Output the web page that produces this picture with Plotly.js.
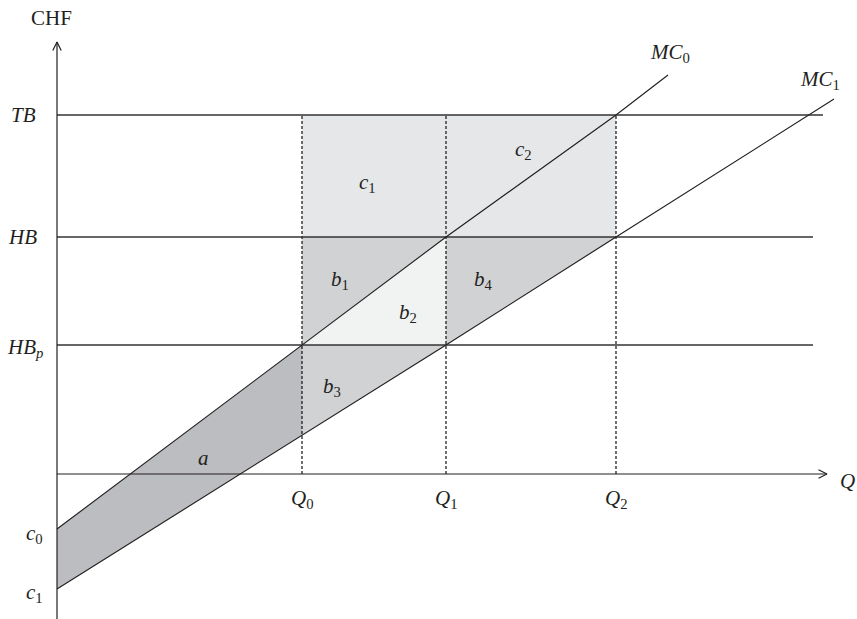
<!DOCTYPE html>
<html><head><meta charset="utf-8">
<script src="https://cdn.plot.ly/plotly-3.0.1.min.js"></script>
<style>html,body{margin:0;padding:0;background:#fff}#chart{width:857px;height:619px}</style>
</head><body><div id="chart"></div>
<script>
// ---- data ----
const qNames = ['Q0', 'Q1', 'Q2'];
const qValues = [24.5, 38.9, 55.9];
const priceNames = ['TB', 'HB', 'HBp'];
const priceValues = [35.9, 23.7, 12.9];
const priceLineEnds = [76.6, 75.6, 75.6];
const interceptNames = ['c0', 'c1'];
const interceptValues = [-5.5, -11.5];
const mc0Q = [0, 24.5, 38.9, 55.9, 61.1];
const mc0P = [-5.5, 12.9, 23.7, 35.9, 39.9];
const mc1Q = [0, 38.9, 55.9, 77.7];
const mc1P = [-11.5, 12.9, 23.7, 37.5];
const axisQMax = 77.0;
const axisPMax = 43.2;
const axisPMin = -14.5;
const regionNames = ['a', 'b1', 'b2', 'b3', 'b4', 'c1', 'c2'];

// ---- derived geometry ----
const [Q0, Q1, Q2] = qValues;
const [TB, HB, HBp] = priceValues;
const [c0, c1] = interceptValues;
function mcAt(qs, ps, q) {
  for (let i = 0; i < qs.length - 1; i++) {
    if (q >= qs[i] && q <= qs[i + 1]) {
      return ps[i] + (ps[i + 1] - ps[i]) * (q - qs[i]) / (qs[i + 1] - qs[i]);
    }
  }
  return ps[ps.length - 1];
}
const mc1AtQ0 = mcAt(mc1Q, mc1P, Q0);

const COL_DARK = '#bcbdc0', COL_MID = '#d1d2d4', COL_LIGHT = '#e6e7e8', COL_PALE = '#f1f2f2';
const INK = '#231f20';
const FONT = 'Liberation Serif, Times New Roman, serif';

function region(x, y, color) {
  return {x: x, y: y, mode: 'none', fill: 'toself', fillcolor: color, type: 'scatter', hoverinfo: 'skip', showlegend: false};
}
function seg(x, y, color, width, dash) {
  return {x: x, y: y, mode: 'lines', type: 'scatter', hoverinfo: 'skip', showlegend: false,
    line: {color: color, width: width, dash: dash || 'solid'}};
}

const traces = [];
traces.push(region([Q0, Q2, Q2, Q0], [HB, HB, TB, TB], COL_LIGHT));            // c1 + c2
traces.push(region([Q0, Q0, Q1], [HBp, HB, HB], COL_MID));                       // b1
traces.push(region([Q0, Q1, Q1], [HBp, HB, HBp], COL_PALE));                     // b2
traces.push(region([Q1, Q2, Q1], [HB, HB, HBp], COL_MID));                       // b4
traces.push(region([Q0, Q1, Q0], [HBp, HBp, mc1AtQ0], COL_MID));                 // b3
traces.push(region([0, Q0, Q0, 0], [c0, HBp, mc1AtQ0, c1], COL_DARK));           // a

// dashed verticals
qValues.forEach(q => traces.push(seg([q, q], [0, TB], '#111', 1.2, '3px,2px')));
// horizontal price lines
priceValues.forEach((p, i) => traces.push(seg([0, priceLineEnds[i]], [p, p], '#333', 1.3)));
// MC curves
traces.push(seg(mc0Q, mc0P, INK, 1.15));
traces.push(seg(mc1Q, mc1P, INK, 1.15));
// axes
traces.push(seg([0, axisQMax], [0, 0], INK, 1.2));
traces.push(seg([0, 0], [axisPMin, axisPMax], INK, 1.2));
// open arrowheads (style offsets)
const ah = 0.85, aw = 0.42;
traces.push(seg([axisQMax - ah, axisQMax, axisQMax - ah], [aw, 0, -aw], INK, 1.2));
traces.push(seg([-aw, 0, aw], [axisPMax - ah, axisPMax, axisPMax - ah], INK, 1.2));

function lab(x, y, text, opts) {
  return Object.assign({x: x, y: y, xref: 'x', yref: 'y', text: text, showarrow: false,
    font: {family: FONT, size: 21, color: INK}, xanchor: 'center', yanchor: 'middle'}, opts || {});
}
function sub(name) {
  const m = name.match(/^([A-Za-z]+?)([0-9p])$/);
  if (!m) return '<i>' + name + '</i>';
  const s = m[2] === 'p' ? '<i>p</i>' : m[2];
  return '<i>' + m[1] + '</i><sub>' + s + '</sub>';
}

const annotations = [];
annotations.push(lab(-0.6, 45.6, 'CHF'));
annotations.push(lab(-1.9, TB, sub(priceNames[0]), {xanchor: 'right'}));
annotations.push(lab(-1.8, HB, sub(priceNames[1]), {xanchor: 'right'}));
annotations.push(lab(-1.2, HBp, sub(priceNames[2]), {xanchor: 'right', yshift: -3}));
annotations.push(lab(-1.2, c0, sub(interceptNames[0]), {xanchor: 'right', yshift: -5}));
annotations.push(lab(-1.2, c1, sub(interceptNames[1]), {xanchor: 'right', yshift: -4}));
qValues.forEach((q, i) => annotations.push(lab(q, -2.5, sub(qNames[i]))));
annotations.push(lab(79.0, -0.7, '<i>Q</i>'));
annotations.push(lab(61.3, 42.1, '<i>MC</i><sub>0</sub>'));
annotations.push(lab(76.3, 39.4, '<i>MC</i><sub>1</sub>'));
const regionLabelPos = [[14.6, 1.6], [28.3, 19.4], [35.1, 16.1], [27.5, 8.7], [42.6, 19.4], [31.0, 29.1], [46.6, 32.4]];
regionNames.forEach((n, i) => annotations.push(lab(regionLabelPos[i][0], regionLabelPos[i][1], sub(n))));

const layout = {
  width: 857, height: 619,
  margin: {l: 0, r: 0, t: 0, b: 0},
  paper_bgcolor: '#fff', plot_bgcolor: '#fff',
  xaxis: {range: [-5.7, 80.0], visible: false, fixedrange: true},
  yaxis: {range: [-14.5, 47.4], visible: false, fixedrange: true},
  showlegend: false,
  annotations: annotations
};
Plotly.newPlot('chart', traces, layout, {staticPlot: true, displayModeBar: false});
</script>
</body></html>
